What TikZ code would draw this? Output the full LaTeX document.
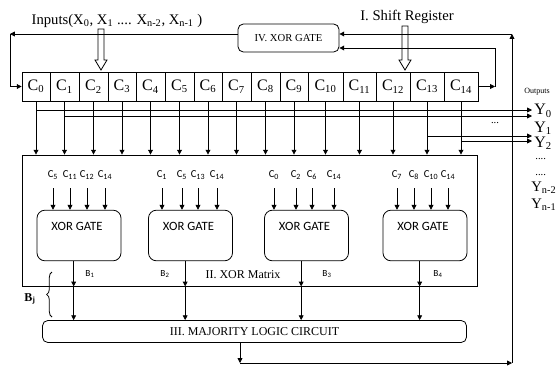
\documentclass[tikz,border=0pt]{standalone}
\usepackage{fontspec}
\setmainfont{Liberation Serif}
\newfontfamily\calib{Carlito}
\usepackage{tikz}
\usetikzlibrary{positioning,arrows.meta,decorations.pathreplacing}

\begin{document}
\begin{tikzpicture}[
x=0.75pt, y=-0.75pt,
line width=0.6pt,
cell/.style={draw, inner sep=0pt, minimum height=21.75pt, font=\fontsize{12}{12}\selectfont},
rbox/.style={draw, rounded corners=4pt, inner sep=0pt, align=center},
gate/.style={draw, rounded corners=6pt, minimum width=63pt, minimum height=38pt},
lbl/.style={font=\calib\fontsize{8}{8}\selectfont, inner sep=0pt},
blbl/.style={font=\calib\fontsize{7}{7}\selectfont, inner sep=0pt},
ylbl/.style={anchor=west, inner sep=0pt, font=\fontsize{12}{12}\selectfont},
arr/.style={-{Triangle[length=3.6pt,width=3.6pt]}}
]
\useasboundingbox (0,0) rectangle (557,372);

% shift register cells
\foreach \i/\l/\r in {0/22/50,1/50/79,2/79/108,3/108/136,4/136/165,5/165/194,6/194/222,7/222/251,8/251/280,9/280/308,10/308/343,11/343/376,12/376/410,13/410/444,14/444/478}
  \node[cell, minimum width={(\r-\l)*0.75pt}] (c\i) at ({(\l+\r)/2},86.5) {C\textsubscript{\i}};

\node[font=\fontsize{11}{11}\selectfont] (inp) at (117,21) {Inputs(X\textsubscript{0}, X\textsubscript{1} .... X\textsubscript{n-2}, X\textsubscript{n-1} )};
\node[font=\fontsize{11}{11}\selectfont] (sreg) at (407,17) {I. Shift Register};
\node[rbox, minimum width=75.75pt, minimum height=21pt, font=\fontsize{8}{8}\selectfont] (xorfb) at (288.5,38) {IV. XOR GATE};

% hollow input arrows
\foreach \x/\t in {101/29,405/26}
  \draw[fill=white] (\x-3,\t) -- (\x+3,\t) -- (\x+3,60) -- (\x+6,60) -- (\x,70) -- (\x-6,60) -- (\x-3,60) -- cycle;

% feedback paths
\coordinate (tl) at (10,34);
\coordinate (tr) at (495,48);
\coordinate (mo) at (240,363);
\coordinate (fr) at (512,363);
\coordinate (ft) at (512,34);
\draw[arr] (xorfb.west |- tl) -- (tl);
\draw[arr] (tl) -- (tl |- c0.west) -- (c0.west);
\draw[arr] (c14.east) -- (c14.east -| tr);
\draw[arr] (c14.east -| tr) -- (tr) -- (xorfb.east |- tr);

% XOR matrix
\node[draw, minimum width=341.25pt, minimum height=98.25pt] (xormat) at (249.5,220.5) {};
\node[font=\fontsize{9}{9}\selectfont] (mtitle) at (243,275) {II. XOR Matrix};
\foreach \i in {0,...,14}
  \draw[arr] (c\i.south) -- (c\i.south |- xormat.north);

% outputs
\coordinate (yend) at (532,0);
\foreach \c/\y in {0/110,1/116,13/136,14/141}
  \draw[arr] (c\c.south |- 0,\y) -- (yend |- 0,\y);
\node[font=\fontsize{8}{8}\selectfont] (odots) at (495,123) {...};
\node[anchor=west, inner sep=0pt, font=\fontsize{6}{6}\selectfont] (outs) at (524,92) {Outputs};
\node[ylbl] (y0) at (534,111) {Y\textsubscript{0}};
\node[ylbl] (y1) at (534,128) {Y\textsubscript{1}};
\node[ylbl] (y2) at (534,143) {Y\textsubscript{2}};
\node[ylbl, font=\fontsize{8}{8}\selectfont] (yd1) at (535,159) {....};
\node[ylbl, font=\fontsize{8}{8}\selectfont] (yd2) at (535,175) {....};
\node[ylbl, font=\fontsize{11}{11}\selectfont] (yn2) at (531,188) {Y\textsubscript{n-2}};
\node[ylbl, font=\fontsize{11}{11}\selectfont] (yn1) at (531,205) {Y\textsubscript{n-1}};

% XOR gates and their inputs
\foreach \g/\x/\a/\b/\c/\d/\la/\lb/\lc/\ld in {
  1/79/53/70/87/105/5/11/12/14,
  2/190.5/162/182/198/217/1/5/13/14,
  3/306.5/274/296/312/334/0/2/6/14,
  4/425/397/414/431/448/7/8/10/14}{
  \node[gate] (g\g) at (\x,235.5) {};
  \node[font=\calib\fontsize{9.5}{9.5}\selectfont, inner sep=0pt] (gt\g) at (\x-2,226) {XOR GATE};
  \foreach \p/\q in {\a/\la,\b/\lb,\c/\lc,\d/\ld}{
    \node[lbl] (l\g-\q) at (\p,175) {C\textsubscript{\q}};
    \draw[arr] (\p,188) -- (\p,0 |- g\g.north);
  }
}

% majority logic
\node[rbox, minimum width=318pt, minimum height=16.5pt, font=\fontsize{9}{9}\selectfont] (major) at (254.5,331.5) {III. MAJORITY LOGIC CIRCUIT};
\foreach \g/\bx in {1/90,2/165,3/327,4/438}{
  \coordinate (b\g) at ([xshift=-4pt]g\g.south);
  \draw[arr] (b\g) -- (b\g |- xormat.south);
  \draw[arr] (b\g |- xormat.south) -- (b\g |- major.north);
  \node[blbl] (bl\g) at (\bx,274) {B\textsubscript{\g}};
}
\draw[decorate, decoration={brace, amplitude=4pt}] (52,317) -- (52,272);
\node[font=\fontsize{9}{9}\selectfont] (bj) at (30,299) {\textbf{B}\textsubscript{\textbf{j}}};

\draw[arr] (major.south -| mo) -- (mo);
\draw[arr] (mo) -- (fr);
\draw[arr] (fr) -- (ft);
\draw[arr] (ft) -- (xorfb.east |- ft);
\end{tikzpicture}
\end{document}
